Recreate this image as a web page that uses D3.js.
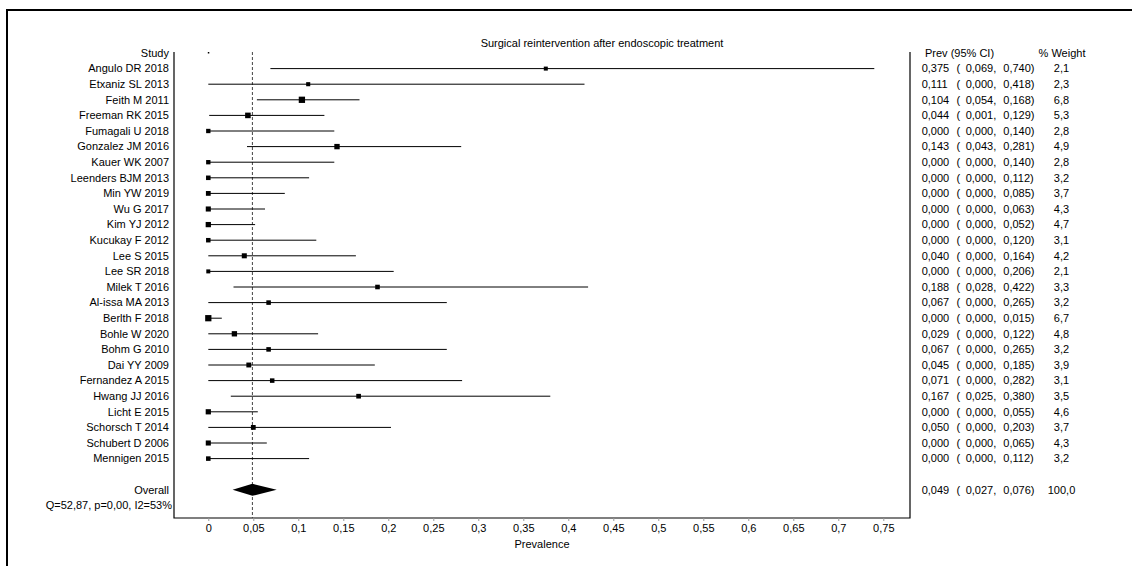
<!DOCTYPE html>
<html>
<head>
<meta charset="utf-8">
<script src="https://cdn.jsdelivr.net/npm/d3@7"></script>
<style>
  body { margin: 0; background: #fff; }
  text { font-family: "Liberation Sans", Arial, sans-serif; font-size: 11px; fill: #000; }
</style>
</head>
<body>
<div id="chart"></div>
<script>
/*
*    forest plot - surgical reintervention
*/

const studies = ["Angulo DR 2018", "Etxaniz SL 2013", "Feith M 2011", "Freeman RK 2015", "Fumagali U 2018",
	"Gonzalez JM 2016", "Kauer WK 2007", "Leenders BJM 2013", "Min YW 2019", "Wu G 2017", "Kim YJ 2012",
	"Kucukay F 2012", "Lee S 2015", "Lee SR 2018", "Milek T 2016", "Al-issa MA 2013", "Berlth F 2018",
	"Bohle W 2020", "Bohm G 2010", "Dai YY 2009", "Fernandez A 2015", "Hwang JJ 2016", "Licht E 2015",
	"Schorsch T 2014", "Schubert D 2006", "Mennigen 2015"];
const prev = [0.375, 0.111, 0.104, 0.044, 0.000, 0.143, 0.000, 0.000, 0.000, 0.000, 0.000, 0.000, 0.040,
	0.000, 0.188, 0.067, 0.000, 0.029, 0.067, 0.045, 0.071, 0.167, 0.000, 0.050, 0.000, 0.000];
const lower = [0.069, 0.000, 0.054, 0.001, 0.000, 0.043, 0.000, 0.000, 0.000, 0.000, 0.000, 0.000, 0.000,
	0.000, 0.028, 0.000, 0.000, 0.000, 0.000, 0.000, 0.000, 0.025, 0.000, 0.000, 0.000, 0.000];
const upper = [0.740, 0.418, 0.168, 0.129, 0.140, 0.281, 0.140, 0.112, 0.085, 0.063, 0.052, 0.120, 0.164,
	0.206, 0.422, 0.265, 0.015, 0.122, 0.265, 0.185, 0.282, 0.380, 0.055, 0.203, 0.065, 0.112];
const weights = [2.1, 2.3, 6.8, 5.3, 2.8, 4.9, 2.8, 3.2, 3.7, 4.3, 4.7, 3.1, 4.2, 2.1, 3.3, 3.2, 6.7,
	4.8, 3.2, 3.9, 3.1, 3.5, 4.6, 3.7, 4.3, 3.2];

const overall = { prev: 0.049, lower: 0.027, upper: 0.076, weight: 100.0 };
const heterogeneity = "Q=52,87, p=0,00, I2=53%";
const xTicks = [0, 0.05, 0.1, 0.15, 0.2, 0.25, 0.3, 0.35, 0.4, 0.45, 0.5, 0.55, 0.6, 0.65, 0.7, 0.75];

const width = 1132;
const height = 566;

const svg = d3.select("#chart")
	.append("svg")
	.attr("width", width)
	.attr("height", height);

// marco exterior
svg.append("rect")
	.attr("x", 7)
	.attr("y", 10)
	.attr("width", 1140)
	.attr("height", 600)
	.attr("fill", "none")
	.attr("stroke", "#000")
	.attr("stroke-width", 2);

const plot = { left: 174, right: 910, top: 52, bottom: 518 };

// escalas
const x = d3.scaleLinear()
	.domain([0, 0.75])
	.range([208.3, 883.3]);

const y = d3.scaleLinear()
	.domain([0, 1])
	.range([53, 68.6]);

const size = d3.scaleLinear()
	.domain([2.1, 6.8])
	.range([4, 6.3]);

const fmt = v => d3.format(".3f")(v).replace(".", ",");
const fmtW = v => d3.format(".1f")(v).replace(".", ",");

// titulo
svg.append("text")
	.attr("x", 602)
	.attr("y", 43)
	.attr("dy", "0.35em")
	.attr("text-anchor", "middle")
	.text("Surgical reintervention after endoscopic treatment");

// marco del grafico
svg.append("path")
	.attr("d", `M${plot.left},${plot.top}V${plot.bottom}H${plot.right}V${plot.top}`)
	.attr("fill", "none")
	.attr("stroke", "#000")
	.attr("stroke-width", 1.2);

// linea del efecto global
svg.append("line")
	.attr("x1", x(overall.prev))
	.attr("x2", x(overall.prev))
	.attr("y1", plot.top)
	.attr("y2", plot.bottom)
	.attr("stroke", "#444")
	.attr("stroke-width", 1)
	.attr("stroke-dasharray", "3,2");

// eje X
const xAxis = svg.append("g")
	.attr("transform", `translate(0, ${plot.bottom})`)
	.call(d3.axisBottom(x)
		.tickValues(xTicks)
		.tickSize(3)
		.tickFormat(d => String(d).replace(".", ",")));
xAxis.select(".domain").remove();
xAxis.selectAll("line").attr("stroke", "#999");
xAxis.selectAll("text")
	.attr("y", 6)
	.style("font-size", "11px")
	.style("font-family", "Liberation Sans, Arial, sans-serif");

svg.append("text")
	.attr("x", (plot.left + plot.right) / 2)
	.attr("y", 544)
	.attr("dy", "0.35em")
	.attr("text-anchor", "middle")
	.text("Prevalence");

// cabeceras
svg.append("text")
	.attr("x", 169)
	.attr("y", y(0))
	.attr("dy", "0.35em")
	.attr("text-anchor", "end")
	.text("Study");

svg.append("rect")
	.attr("x", x(0) - 0.5)
	.attr("y", y(0) - 1)
	.attr("width", 1.5)
	.attr("height", 1.5)
	.attr("fill", "#000");

svg.append("text")
	.attr("x", 925)
	.attr("y", y(0))
	.attr("dy", "0.35em")
	.text("Prev (95% CI)");

svg.append("text")
	.attr("x", 1062)
	.attr("y", y(0))
	.attr("dy", "0.35em")
	.attr("text-anchor", "middle")
	.text("% Weight");

// filas de estudios
const rows = studies.map((name, i) => ({
	name: name,
	prev: prev[i],
	lower: lower[i],
	upper: upper[i],
	weight: weights[i],
	row: i + 1
}));

const row = svg.append("g")
	.selectAll("g")
	.data(rows)
	.enter()
	.append("g")
	.attr("transform", d => `translate(0, ${y(d.row)})`);

row.append("text")
	.attr("x", 169)
	.attr("dy", "0.35em")
	.attr("text-anchor", "end")
	.text(d => d.name);

row.append("line")
	.attr("x1", d => x(d.lower))
	.attr("x2", d => x(d.upper))
	.attr("stroke", "#000")
	.attr("stroke-width", 1);

row.append("rect")
	.attr("x", d => x(d.prev) - size(d.weight) / 2)
	.attr("y", d => -size(d.weight) / 2)
	.attr("width", d => size(d.weight))
	.attr("height", d => size(d.weight))
	.attr("fill", "#000");

// tabla derecha
function tableRow(sel) {
	sel.append("text").attr("x", 921.7).attr("dy", "0.35em").text(d => fmt(d.prev));
	sel.append("text").attr("x", 956.5).attr("dy", "0.35em").text("(");
	sel.append("text").attr("x", 965.7).attr("dy", "0.35em").text(d => fmt(d.lower) + ",");
	sel.append("text").attr("x", 1003.3).attr("dy", "0.35em").text(d => fmt(d.upper) + ")");
	sel.append("text").attr("x", 1061.5).attr("dy", "0.35em").attr("text-anchor", "middle")
		.text(d => fmtW(d.weight));
}
row.call(tableRow);

// global
const ov = svg.append("g")
	.datum(overall)
	.attr("transform", `translate(0, ${y(28)})`);

ov.append("text")
	.attr("x", 169)
	.attr("dy", "0.35em")
	.attr("text-anchor", "end")
	.text("Overall");

ov.append("path")
	.attr("d", d => `M${x(d.lower)},0L${x(d.prev)},-6L${x(d.upper)},0L${x(d.prev)},6Z`)
	.attr("fill", "#000");

ov.call(tableRow);

svg.append("text")
	.attr("x", 172)
	.attr("y", y(29))
	.attr("dy", "0.35em")
	.attr("text-anchor", "end")
	.text(heterogeneity);
</script>
</body>
</html>
